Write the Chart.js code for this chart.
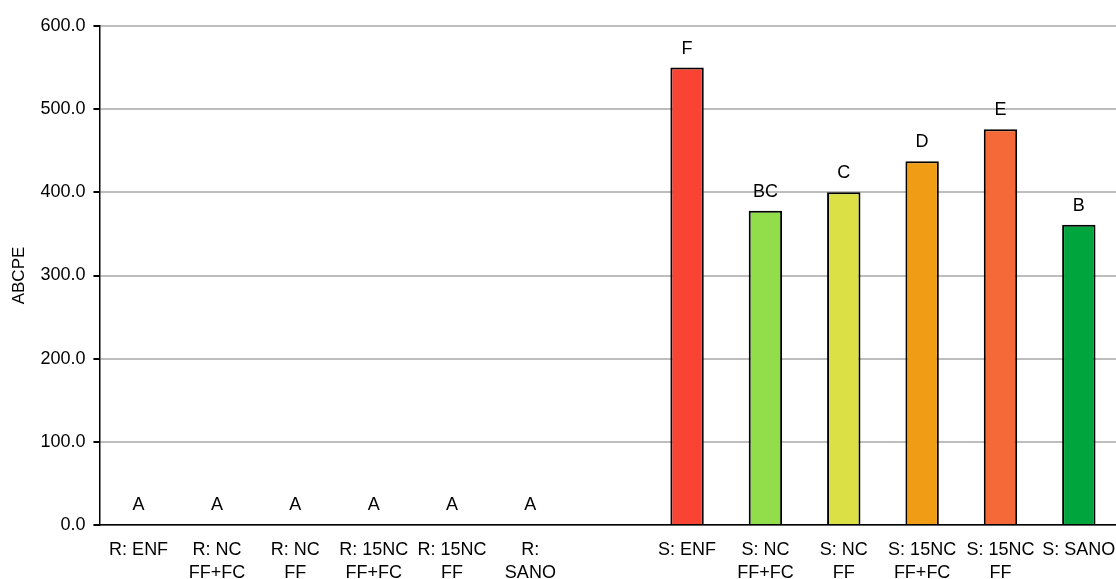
<!DOCTYPE html>
<html>
<head>
<meta charset="utf-8">
<script src="https://cdn.jsdelivr.net/npm/chart.js@4"></script>
<style>
  body { margin: 0; background: #fff; overflow: hidden; }
  #wrap { width: 1118px; height: 579px; }
</style>
</head>
<body>
<div id="wrap"><canvas id="barChart"></canvas></div>
<script>
// categories (empty slot separates the R and S groups)
const categories = [
    ['R: ENF'], ['R: NC', 'FF+FC'], ['R: NC', 'FF'], ['R: 15NC', 'FF+FC'], ['R: 15NC', 'FF'], ['R:', 'SANO'],
    '',
    ['S: ENF'], ['S: NC', 'FF+FC'], ['S: NC', 'FF'], ['S: 15NC', 'FF+FC'], ['S: 15NC', 'FF'], ['S: SANO']
];
const abcpeValues = [1.2, 1.0, 1.1, 1.0, 1.1, 1.2, null, 550.0, 378.0, 400.0, 437.5, 476.0, 361.0];
const letters = ['A', 'A', 'A', 'A', 'A', 'A', '', 'F', 'BC', 'C', 'D', 'E', 'B'];
const barColors = ['#f94333', '#92dd4a', '#dbe144', '#f09c14', '#f56837', '#00a63d', '#ffffff',
                   '#f94333', '#92dd4a', '#dbe144', '#f09c14', '#f56837', '#00a63d'];
const yTicks = { min: 0, max: 600, step: 100 };

Chart.defaults.font.family = '"Liberation Sans", Arial, sans-serif';
Chart.defaults.font.size = 18;
Chart.defaults.color = '#000';

// letters over the bars
const letterLabels = {
    id: 'letterLabels',
    afterDatasetsDraw(chart) {
        const ctx = chart.ctx;
        const meta = chart.getDatasetMeta(0);
        ctx.save();
        ctx.font = '18px "Liberation Sans", Arial, sans-serif';
        ctx.fillStyle = '#000';
        ctx.textAlign = 'center';
        ctx.textBaseline = 'bottom';
        meta.data.forEach((bar, i) => {
            if (!letters[i]) return;
            ctx.fillText(letters[i], bar.x, bar.y - 10);
        });
        ctx.restore();
    }
};

new Chart(document.getElementById('barChart'), {
    type: 'bar',
    data: {
        labels: categories,
        datasets: [{
            label: 'ABCPE',
            data: abcpeValues,
            backgroundColor: barColors,
            borderColor: '#000',
            borderWidth: 2,
            categoryPercentage: 0.82,
            barPercentage: 0.52
        }]
    },
    options: {
        responsive: true,
        maintainAspectRatio: false,
        animation: false,
        layout: { padding: { top: 26, right: 0, bottom: -5, left: 9 } },
        plugins: {
            legend: { display: false },
            tooltip: { enabled: false }
        },
        scales: {
            x: {
                grid: { display: false, tickLength: 14 },
                border: { color: '#000', width: 1.5 },
                ticks: { padding: 0, maxRotation: 0, autoSkip: false, font: { size: 18, lineHeight: 1.25 } }
            },
            y: {
                min: yTicks.min,
                max: yTicks.max,
                grid: { color: '#bdbdbd', lineWidth: 2, tickColor: '#000', tickLength: 6 },
                border: { color: '#000', width: 1.5 },
                ticks: {
                    stepSize: yTicks.step,
                    padding: 8,
                    callback: v => v.toFixed(1)
                },
                title: { display: true, text: 'ABCPE', font: { size: 17 }, padding: { top: 0, bottom: 3 } }
            }
        }
    },
    plugins: [letterLabels]
});
</script>
</body>
</html>
